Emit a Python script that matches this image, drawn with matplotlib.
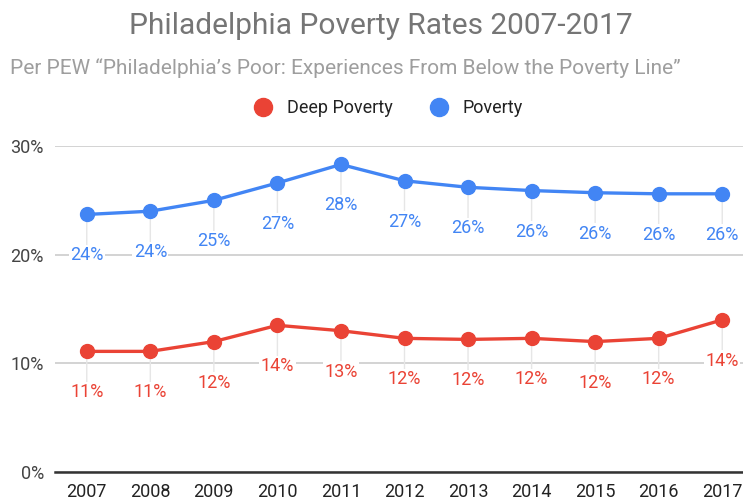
import matplotlib.pyplot as plt
from matplotlib.lines import Line2D

plt.rcParams['font.family'] = ['Roboto', 'DejaVu Sans']

years = [2007, 2008, 2009, 2010, 2011, 2012, 2013, 2014, 2015, 2016, 2017]
deep_poverty = [11.1, 11.1, 12.0, 13.5, 13.0, 12.3, 12.2, 12.3, 12.0, 12.3, 14.0]
poverty = [23.7, 24.0, 25.0, 26.6, 28.3, 26.8, 26.2, 25.9, 25.7, 25.6, 25.6]

red = '#ea4335'
blue = '#4285f4'

fig = plt.figure(figsize=(7.43, 5.03), dpi=100)
ax = fig.add_axes([55 / 743, 31 / 503, 699 / 743, 326 / 503])

for vals, col in [(deep_poverty, red), (poverty, blue)]:
    ax.plot(years, vals, color=col, lw=2.4, marker='o', ms=10,
            zorder=3, clip_on=False)
    for x, v in zip(years, vals):
        ax.annotate(f'{v:.0f}%', xy=(x, v), xytext=(0, -29.5),
                    textcoords='offset points', ha='center', va='center',
                    fontsize=13, color=col, zorder=2,
                    bbox=dict(boxstyle='square,pad=0.08', fc='white', ec='none'),
                    arrowprops=dict(arrowstyle='-', color='#e6e6e6', lw=1,
                                    shrinkA=0, shrinkB=0))

ax.set_xlim(2006.5, 2017.5)
ax.set_ylim(0, 30)
ax.set_yticks([0, 10, 20, 30])
ax.set_yticklabels(['0%', '10%', '20%', '30%'])
ax.set_xticks(years)
ax.set_xticklabels([str(y) for y in years])
ax.tick_params(axis='y', length=0, pad=8, labelsize=13, labelcolor='#444444')
ax.tick_params(axis='x', length=0, pad=8, labelsize=13, labelcolor='#222222')
ax.grid(axis='y', color='#cccccc', lw=1.2)
ax.set_axisbelow(True)
for s in ['top', 'right', 'left']:
    ax.spines[s].set_visible(False)
ax.spines['bottom'].set_color('#333333')
ax.spines['bottom'].set_linewidth(1.8)

fig.text(381 / 743, 1 - 26 / 503, 'Philadelphia Poverty Rates 2007-2017',
         ha='center', va='center', fontsize=21.5, color='#757575')
fig.text(10 / 743, 1 - 68 / 503,
         'Per PEW \u201cPhiladelphia\u2019s Poor: Experiences From Below the Poverty Line\u201d',
         ha='left', va='center', fontsize=15, color='#9e9e9e')

handles = [Line2D([], [], ls='none', marker='o', ms=13, color=red),
           Line2D([], [], ls='none', marker='o', ms=13, color=blue)]
fig.legend(handles, ['Deep Poverty', 'Poverty'], loc='center', ncol=2,
           bbox_to_anchor=(0.517, 1 - 108 / 503), frameon=False,
           fontsize=13, labelcolor='#222222', handletextpad=0.3,
           columnspacing=1.6)

fig.savefig('out.png', dpi=100)
